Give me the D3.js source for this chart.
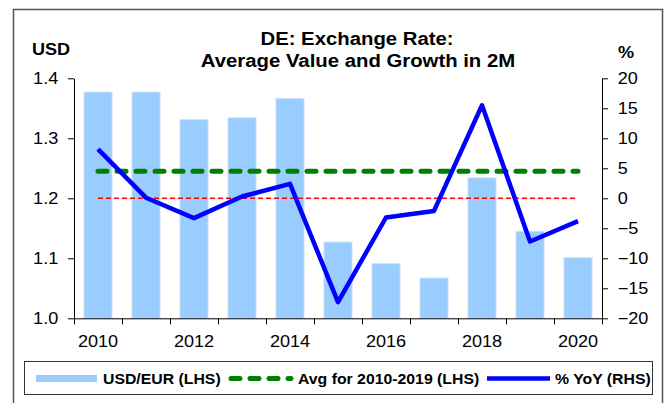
<!DOCTYPE html>
<html>
<head>
<meta charset="utf-8">
<title>DE: Exchange Rate</title>
<script src="https://d3js.org/d3.v7.min.js"></script>
<style>
    body { margin: 0; background: #fff; }
    svg text { font-family: Arial, "Liberation Sans", sans-serif; fill: #000; }
</style>
</head>
<body>
<div id="chart"></div>
<script>
// data
var years = [2010, 2011, 2012, 2013, 2014, 2015, 2016, 2017, 2018, 2019, 2020];
var usdEur = [1.377, 1.377, 1.331, 1.334, 1.366, 1.127, 1.091, 1.067, 1.234, 1.145, 1.101];
var yoy = [8.2, 0.1, -3.3, 0.3, 2.4, -17.3, -3.2, -2.1, 15.5, -7.2, -3.8];
var avg2010to2019 = [1.245];
var zeroLine = [0];
var leftTicks = [1.0, 1.1, 1.2, 1.3, 1.4];
var rightTicks = [-20, -15, -10, -5, 0, 5, 10, 15, 20];
var xLabels = [2010, 2012, 2014, 2016, 2018, 2020];
var legendLabels = ["USD/EUR (LHS)", "Avg for 2010-2019 (LHS)", "% YoY (RHS)"];

var W = 669, H = 403;
var sx = 1.13; // the reference text is slightly wide
var plot = { left: 74, right: 602, top: 78.3, bottom: 318.3 };

var svg = d3.select("#chart").append("svg")
    .attr("width", W).attr("height", H);

// outer frame
svg.append("rect")
    .attr("x", 13.5).attr("y", 9.5)
    .attr("width", 649).attr("height", 410)
    .attr("fill", "none").attr("stroke", "#555").attr("stroke-width", 1.5);

var x = d3.scaleBand()
    .domain(years)
    .range([plot.left, plot.right])
    .paddingInner(0.4167)
    .paddingOuter(0.2083);
var xb = d3.scaleLinear().domain([0, years.length]).range([plot.left, plot.right]);
var yL = d3.scaleLinear().domain([1.0, 1.4]).range([plot.bottom, plot.top]);
var yR = d3.scaleLinear().domain([-20, 20]).range([plot.bottom, plot.top]);
function cx(d) { return x(d) + x.bandwidth() / 2; }

// bars
svg.append("g").selectAll("rect")
    .data(years)
    .enter().append("rect")
    .attr("x", function (d) { return x(d); })
    .attr("y", function (d, i) { return yL(usdEur[i]); })
    .attr("width", x.bandwidth())
    .attr("height", function (d, i) { return yL(1.0) - yL(usdEur[i]); })
    .attr("fill", "#99CCFF")
    .attr("stroke", "#c4e0ff").attr("stroke-width", 1);

// zero line of the right axis
svg.append("g").selectAll("line")
    .data(zeroLine)
    .enter().append("line")
    .attr("x1", cx(years[0])).attr("x2", cx(years[years.length - 1]))
    .attr("y1", function (d) { return yR(d); })
    .attr("y2", function (d) { return yR(d); })
    .attr("stroke", "#ff0000").attr("stroke-width", 1.5)
    .attr("stroke-dasharray", "5,3");

// average line
svg.append("g").selectAll("line")
    .data(avg2010to2019)
    .enter().append("line")
    .attr("x1", cx(years[0])).attr("x2", cx(years[years.length - 1]))
    .attr("y1", function (d) { return yL(d); })
    .attr("y2", function (d) { return yL(d); })
    .attr("stroke", "#008000").attr("stroke-width", 5)
    .attr("stroke-linecap", "round")
    .attr("stroke-dasharray", "9,10");

// yoy line
svg.append("path")
    .datum(years)
    .attr("fill", "none")
    .attr("stroke", "#0000ff")
    .attr("stroke-width", 4.5)
    .attr("stroke-linejoin", "round")
    .attr("d", d3.line()
        .x(function (d) { return cx(d); })
        .y(function (d, i) { return yR(yoy[i]); }));

// axes
function styleAxis(g) {
    g.selectAll("path, line").attr("stroke", "#000").attr("stroke-width", 1);
    g.selectAll("text").attr("font-size", 16).attr("fill", "#000");
}

svg.append("g")
    .attr("transform", "translate(0," + plot.bottom + ")")
    .call(d3.axisBottom(xb).tickValues(d3.range(0, years.length + 1))
        .tickFormat("").tickSize(6).tickSizeOuter(0))
    .call(styleAxis);

var xl = svg.append("g")
    .attr("transform", "translate(0," + plot.bottom + ")")
    .call(d3.axisBottom(x).tickValues(xLabels).tickSize(0).tickPadding(17))
    .call(styleAxis);
xl.select(".domain").remove();
xl.selectAll("text").attr("transform", "scale(" + sx + ",1)");

var ya = svg.append("g")
    .attr("transform", "translate(" + plot.left + ",0)")
    .call(d3.axisLeft(yL).tickValues(leftTicks).tickFormat(d3.format(".1f"))
        .tickSize(6).tickSizeOuter(0).tickPadding(9 / sx))
    .call(styleAxis);
ya.selectAll("text").attr("transform", "scale(" + sx + ",1)");

var yb = svg.append("g")
    .attr("transform", "translate(" + plot.right + ",0)")
    .call(d3.axisRight(yR).tickValues(rightTicks)
        .tickSize(6).tickSizeOuter(0).tickPadding(9 / sx))
    .call(styleAxis);
yb.selectAll("text").attr("transform", "scale(" + sx + ",1)");

// texts
function label(t, px, py, size, anchor, weight) {
    return svg.append("text")
        .attr("transform", "translate(" + px + "," + py + ") scale(" + sx + ",1)")
        .attr("text-anchor", anchor)
        .attr("font-size", size)
        .attr("font-weight", weight || "bold")
        .text(t);
}
label("DE: Exchange Rate:", 357, 45, 18, "middle");
label("Average Value and Growth in 2M", 358, 67, 18, "middle");
label("USD", 32, 55, 16, "start");
label("%", 626, 58, 16, "middle");

// legend
var lg = svg.append("g");
lg.append("rect")
    .attr("x", 24.5).attr("y", 361.5).attr("width", 628).attr("height", 33)
    .attr("fill", "#fff").attr("stroke", "#333").attr("stroke-width", 1);
lg.append("rect")
    .attr("x", 36).attr("y", 375).attr("width", 61).attr("height", 7)
    .attr("fill", "#99CCFF");
lg.append("line")
    .attr("x1", 231).attr("x2", 291).attr("y1", 378.5).attr("y2", 378.5)
    .attr("stroke", "#008000").attr("stroke-width", 5)
    .attr("stroke-linecap", "round").attr("stroke-dasharray", "9,10");
lg.append("line")
    .attr("x1", 487).attr("x2", 550).attr("y1", 378.5).attr("y2", 378.5)
    .attr("stroke", "#0000ff").attr("stroke-width", 4.5);
var legendX = [103, 298, 555];
legendLabels.forEach(function (t, i) {
    label(t, legendX[i], 384, 14, "start");
});
</script>
</body>
</html>
